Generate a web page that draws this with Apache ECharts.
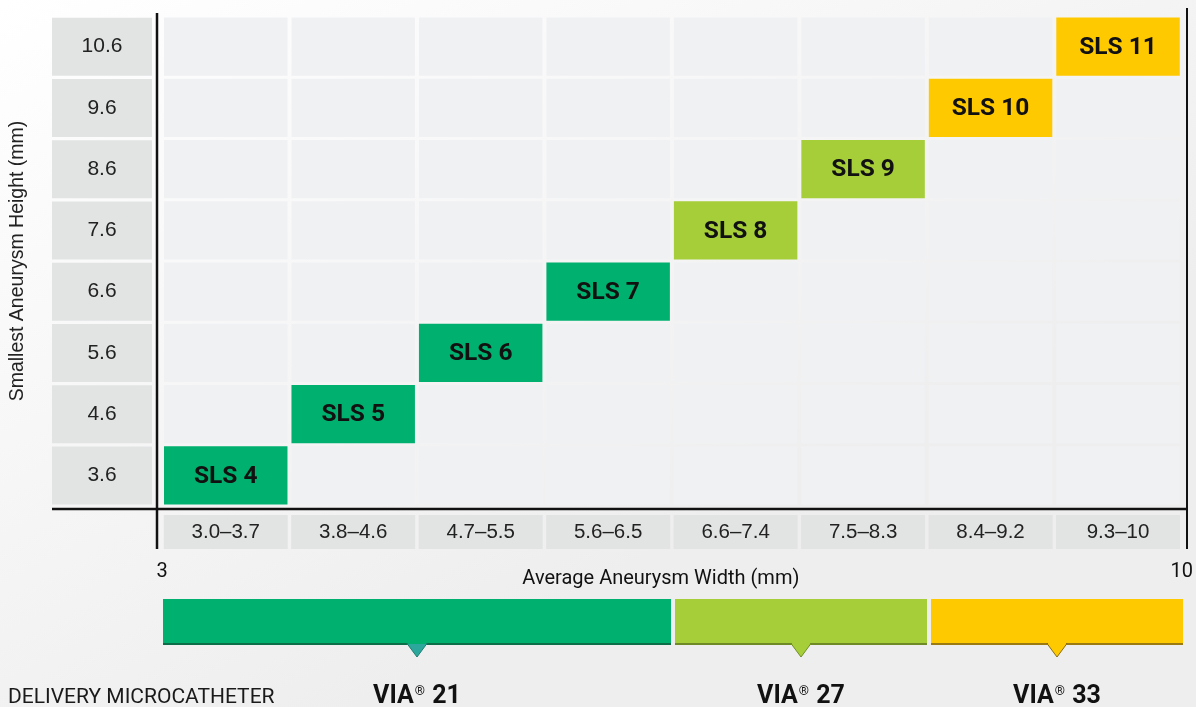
<!DOCTYPE html>
<html>
<head>
<meta charset="utf-8">
<script src="https://cdn.jsdelivr.net/npm/echarts/dist/echarts.min.js"></script>
<style>
  html, body { margin: 0; padding: 0; }
  #chart { width: 1196px; height: 707px; }
</style>
</head>
<body>
<div id="chart"></div>
<script>
// width bins (x) and height ticks (y)
var widthBins = ['3.0–3.7', '3.8–4.6', '4.7–5.5', '5.6–6.5', '6.6–7.4', '7.5–8.3', '8.4–9.2', '9.3–10'];
var heightTicks = ['3.6', '4.6', '5.6', '6.6', '7.6', '8.6', '9.6', '10.6'];
var widthRange = [3, 10];

// SLS sizes: which width bin / height row, and which catheter
var slsNames = ['SLS 4', 'SLS 5', 'SLS 6', 'SLS 7', 'SLS 8', 'SLS 9', 'SLS 10', 'SLS 11'];
var slsWidthIdx = [0, 1, 2, 3, 4, 5, 6, 7];
var slsHeightIdx = [0, 1, 2, 3, 4, 5, 6, 7];
var slsCatheter = [0, 0, 0, 0, 1, 1, 2, 2];

// delivery microcatheters, span over width bins
var catheterLabels = ['VIA® 21', 'VIA® 27', 'VIA® 33'];
var catheterStart = [0, 4, 6];
var catheterEnd = [3, 5, 7];

var catheterColors = ['#00b06f', '#a6ce39', '#ffc900'];
var pointerColors = ['#2ba89b', '#a6ce39', '#ffc900'];
var pointerStroke = ['#1d7f72', '#6f8f22', '#8a6d10'];
var shadowColors = ['#0b6e48', '#6d8a26', '#9c7a12'];

var chart = echarts.init(document.getElementById('chart'), null, { renderer: 'canvas' });

var cellData = [];
for (var i = 0; i < widthBins.length; i++) {
  for (var j = 0; j < heightTicks.length; j++) {
    cellData.push([i, j]);
  }
}
var slsData = slsNames.map(function (n, k) {
  return [slsWidthIdx[k], slsHeightIdx[k], n, slsCatheter[k]];
});
var catheterData = catheterLabels.map(function (l, k) {
  return [catheterStart[k], catheterEnd[k], l, k];
});

function cellRect(api, insetX, insetY) {
  var c = api.coord([api.value(0), api.value(1)]);
  var s = api.size([1, 1]);
  return {
    x: c[0] - s[0] / 2 + insetX,
    y: c[1] - s[1] / 2 + insetY,
    width: s[0] - 2 * insetX,
    height: s[1] - 2 * insetY
  };
}

var option = {
  backgroundColor: {
    type: 'linear', x: 0, y: 0, x2: 0.3, y2: 1,
    colorStops: [
      { offset: 0, color: '#ffffff' },
      { offset: 0.5, color: '#f7f7f8' },
      { offset: 1, color: '#eeeeef' }
    ]
  },
  animation: false,
  grid: [
    { left: 161, top: 16, width: 1024, height: 490 },
    { left: 161, top: 599, width: 1024, height: 45 }
  ],
  xAxis: [
    {
      type: 'category', gridIndex: 0, data: widthBins,
      axisLine: { show: false }, axisTick: { show: false }, splitLine: { show: false },
      axisLabel: {
        interval: 0, margin: 9, width: 124, height: 34, lineHeight: 34,
        backgroundColor: '#e2e3e3', fontSize: 20.5, color: '#222',
        fontFamily: 'Liberation Sans'
      }
    },
    {
      type: 'value', gridIndex: 0, min: widthRange[0], max: widthRange[1], interval: 7,
      position: 'bottom',
      axisLine: { show: false }, axisTick: { show: false }, splitLine: { show: false },
      axisLabel: { margin: 56, fontSize: 20, color: '#111', fontFamily: 'Roboto' },
      name: 'Average Aneurysm Width (mm)', nameLocation: 'middle', nameGap: 63,
      nameMoveOverlap: false,
      nameTextStyle: { fontSize: 20, color: '#111', fontFamily: 'Roboto', padding: [0, 22, 0, 0] }
    },
    {
      type: 'category', gridIndex: 1, data: widthBins, show: false
    }
  ],
  yAxis: [
    {
      type: 'category', gridIndex: 0, data: heightTicks,
      axisLine: { show: false }, axisTick: { show: false }, splitLine: { show: false },
      axisLabel: {
        align: 'center', margin: 60, width: 100, height: 58, lineHeight: 58,
        backgroundColor: '#e2e3e3', fontSize: 21, color: '#222',
        fontFamily: 'Liberation Sans'
      },
      name: 'Smallest Aneurysm Height (mm)', nameLocation: 'middle', nameGap: 134,
      nameTextStyle: { fontSize: 19.5, color: '#222', fontFamily: 'Liberation Sans' }
    },
    { type: 'value', gridIndex: 1, min: 0, max: 1, show: false }
  ],
  graphic: [
    { type: 'line', shape: { x1: 52, y1: 509, x2: 1188, y2: 509 }, style: { stroke: '#111', lineWidth: 2.5 }, z: 10 },
    { type: 'line', shape: { x1: 157, y1: 13, x2: 157, y2: 549 }, style: { stroke: '#111', lineWidth: 2.5 }, z: 10 },
    { type: 'line', shape: { x1: 1187, y1: 8, x2: 1187, y2: 549 }, style: { stroke: '#111', lineWidth: 2 }, z: 10 },
    {
      type: 'text', left: 8, top: 687,
      style: { text: 'DELIVERY MICROCATHETER', fontSize: 21, fill: '#1a1a1a', fontFamily: 'Roboto' }
    }
  ],
  series: [
    {
      name: 'cells', type: 'custom', xAxisIndex: 0, yAxisIndex: 0, data: cellData,
      renderItem: function (params, api) {
        return { type: 'rect', shape: cellRect(api, 2, 1.6), style: { fill: '#f0f1f3' } };
      }
    },
    {
      name: 'sls', type: 'custom', xAxisIndex: 0, yAxisIndex: 0, data: slsData,
      renderItem: function (params, api) {
        var r = cellRect(api, 2, 1.6);
        var item = slsData[params.dataIndex];
        return {
          type: 'group',
          children: [
            { type: 'rect', shape: r, style: { fill: catheterColors[item[3]] } },
            {
              type: 'text', x: r.x + r.width / 2, y: r.y + r.height / 2 + 1,
              style: {
                text: item[2], fill: '#111', fontSize: 24.5, fontWeight: 'bold',
                fontFamily: 'Roboto', align: 'center', verticalAlign: 'middle'
              }
            }
          ]
        };
      }
    },
    {
      name: 'catheters', type: 'custom', xAxisIndex: 2, yAxisIndex: 1, data: catheterData,
      renderItem: function (params, api) {
        var item = catheterData[params.dataIndex];
        var k = item[3];
        var a = api.coord([item[0], 1]);
        var b = api.coord([item[1], 0]);
        var w = api.size([1, 0])[0];
        var x0 = a[0] - w / 2 + 2;
        var x1 = b[0] + w / 2 - 2;
        var y0 = a[1], y1 = b[1];
        var cx = (x0 + x1) / 2;
        return {
          type: 'group',
          children: [
            {
              type: 'rect', shape: { x: x0, y: y1 - 1, width: x1 - x0, height: 2 },
              style: { fill: shadowColors[k] }
            },
            {
              type: 'rect', shape: { x: x0, y: y0, width: x1 - x0, height: y1 - y0 - 1 },
              style: { fill: catheterColors[k] }
            },
            {
              type: 'polygon',
              shape: { points: [[cx - 10, y1 - 0.5], [cx + 10, y1 - 0.5], [cx, y1 + 13]] },
              style: { fill: pointerColors[k], stroke: pointerStroke[k], lineWidth: 1 }
            },
            {
              type: 'rect', shape: { x: cx - 9, y: y1 - 3, width: 18, height: 3 },
              style: { fill: catheterColors[k] }
            },
            {
              type: 'text', x: cx, y: y1 + 53,
              style: {
                text: '{b|' + item[2].replace('®', '}{s|®}{b|') + '}',
                align: 'center', verticalAlign: 'middle',
                rich: {
                  b: { fontSize: 25, fontWeight: 'bold', fontFamily: 'Roboto', fill: '#111', lineHeight: 28 },
                  s: { fontSize: 13, fontFamily: 'Roboto', fill: '#111', verticalAlign: 'top', lineHeight: 16, padding: [2, 1, 0, 1] }
                }
              }
            }
          ]
        };
      }
    }
  ]
};

chart.setOption(option);
</script>
</body>
</html>
